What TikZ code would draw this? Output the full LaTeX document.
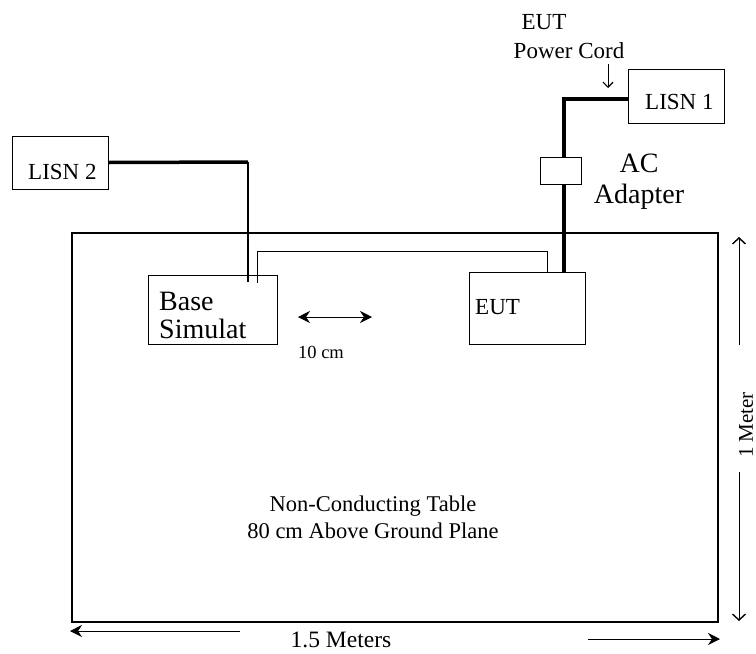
\documentclass[tikz,border=0pt]{standalone}
\usepackage{fontspec}
\setmainfont{Liberation Serif}
\usetikzlibrary{arrows.meta, positioning, calc}

\begin{document}
\begin{tikzpicture}[
    x=1pt, y=-1pt,
    box/.style={rectangle, draw, line width=1pt, inner sep=0pt},
    lbl/.style={inner sep=0pt, font=\fontsize{23}{27}\selectfont},
    biglbl/.style={inner sep=0pt, align=left, font=\fontsize{28}{30}\selectfont},
    cord/.style={line width=3.5pt},
    cable/.style={line width=1pt},
    dim/.style={line width=0.8pt, -{Stealth[length=12pt, width=12pt, inset=4pt]}},
    vdim/.style={line width=0.8pt, -{Straight Barb[length=6pt, width=13pt, line width=1.4pt]}},
    >=Stealth
]
    \useasboundingbox (0,0) rectangle (756,654);

    % table
    \node[box, line width=2.5pt, minimum width=646pt, minimum height=389pt] (table) at (395,427.5) {};
    \node[inner sep=0pt, align=center, font=\fontsize{22.5}{27}\selectfont, anchor=base] (tabletxt) at (373,538) {Non-Conducting Table\\80 cm Above Ground Plane};

    % LISNs and adapter
    \node[box, minimum width=96pt, minimum height=53pt] (lisn2) at (60,162.5) {};
    \node[lbl, anchor=base west] (lisn2txt) at (28,179) {LISN 2};
    \node[box, minimum width=96pt, minimum height=54pt] (lisn1) at (676,96) {};
    \node[lbl, anchor=base west] (lisn1txt) at (645,109) {LISN 1};
    \node[box, minimum width=41pt, minimum height=27pt] (adapter) at (560.5,170.5) {};
    \node[biglbl, align=center, anchor=base] (adaptertxt) at (639,203) {AC\\[1pt]Adapter};

    % units on the table
    \node[box, minimum width=129pt, minimum height=69pt] (base) at (212.5,309.5) {};
    \node[biglbl, anchor=base west] (basetxt) at (159,338) {Base\\[-2pt]Simulat};
    \node[box, minimum width=116pt, minimum height=72pt] (eut) at (527,308) {};
    \node[lbl, anchor=base west] (euttxt) at (475,314) {EUT};

    % power cord label
    \node[lbl, anchor=base] (cordtxt1) at (544,29) {EUT};
    \node[lbl, anchor=base] (cordtxt2) at (569,58) {Power Cord};
    \coordinate (cordtop) at (608,64);
    \coordinate (cordtip) at (608,88);
    \draw[vdim, -{Straight Barb[length=5pt, width=10pt, line width=1.2pt]}] (cordtop) -- (cordtip);

    % cords
    \coordinate (c2) at (248,162);
    \coordinate (b2) at (248,282);
    \draw[cord] (lisn2.east) -- (c2);
    \draw[line width=2pt] (c2) -- (b2);
    \coordinate (c1) at (564,99);
    \draw[cord] (lisn1.west |- c1) -- (c1) -- (c1 |- adapter.north);
    \draw[cord] (c1 |- adapter.south) -- ($(c1 |- eut.north)+(0,1)$);

    % cable between units
    \coordinate (p1) at (257,283);
    \coordinate (p2) at (547,251);
    \draw[cable] (p1) |- (p2) -- (p2 |- eut.north);

    % 10 cm spacing
    \coordinate (ten1) at (298,317);
    \coordinate (ten2) at (372,317);
    \draw[dim, {Stealth[length=12pt, width=12pt, inset=4pt]}-{Stealth[length=12pt, width=12pt, inset=4pt]}] (ten1) -- (ten2);
    \node[inner sep=0pt, anchor=base, font=\fontsize{18.5}{22}\selectfont] (tentxt) at (321,358) {10 cm};

    % 1 Meter
    \coordinate (m1) at (739,345);
    \coordinate (m2) at (739,237);
    \coordinate (m3) at (739,472);
    \coordinate (m4) at (739,621);
    \draw[vdim] (m1) -- (m2);
    \draw[vdim] (m3) -- (m4);
    \node[inner sep=0pt, rotate=90, font=\fontsize{21}{25}\selectfont] (metertxt) at (746,425) {1 Meter};

    % 1.5 Meters
    \coordinate (w1) at (240,631);
    \coordinate (w2) at (70,631);
    \coordinate (w3) at (588,639);
    \coordinate (w4) at (720,639);
    \draw[dim] (w1) -- (w2);
    \draw[dim] (w3) -- (w4);
    \node[inner sep=0pt, anchor=base, font=\fontsize{23.5}{27}\selectfont] (widthtxt) at (341,647) {1.5 Meters};
\end{tikzpicture}
\end{document}
